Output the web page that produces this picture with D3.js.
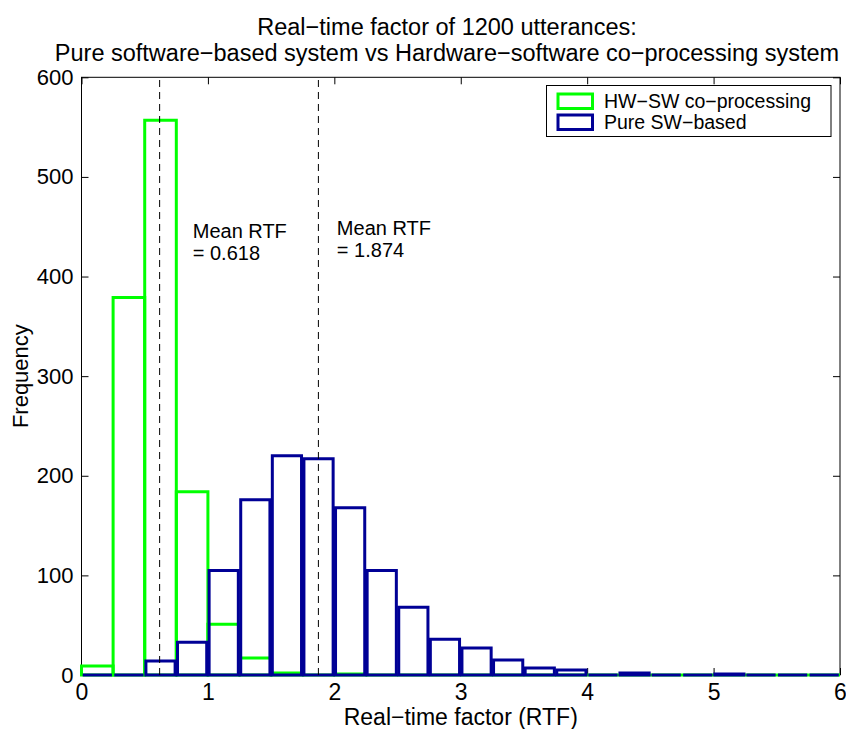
<!DOCTYPE html>
<html>
<head>
<meta charset="utf-8">
<script src="https://cdn.jsdelivr.net/npm/d3@7"></script>
<style>
    body { margin: 0; background: #fff; }
    svg text { font-family: "Liberation Sans", Arial, Helvetica, sans-serif; fill: #000; }
</style>
</head>
<body>
<svg id="chart" width="846" height="729"></svg>
<script>
    // histogram bins (left edge of each 0.25-wide bin)
    var binStarts = [0, 0.25, 0.5, 0.75, 1, 1.25, 1.5, 1.75, 2, 2.25, 2.5, 2.75,
                     3, 3.25, 3.5, 3.75, 4, 4.25, 4.5, 4.75, 5, 5.25, 5.5, 5.75];
    var binWidth = 0.25;
    var hwCounts = [9, 379, 557, 184, 51, 17, 2, 0, 1, 0, 0, 0,
                    0, 0, 0, 0, 0, 0, 0, 0, 0, 0, 0, 0];
    var swCounts = [0, 0, 14, 33, 105, 176, 220, 217, 168, 105, 68, 36,
                    27, 15, 7, 5, 0, 2, 0, 0, 1, 0, 0, 0];
    var seriesNames = ['HW\u2212SW co\u2212processing', 'Pure SW\u2212based'];
    var meanValues = [0.618, 1.874];
    var meanLabels = [['Mean RTF', '= 0.618'], ['Mean RTF', '= 1.874']];
    var meanLabelPos = [[0.88, 439], [2.02, 442]];
    var xTicks = [0, 1, 2, 3, 4, 5, 6];
    var yTicks = [0, 100, 200, 300, 400, 500, 600];
    var titleLines = ['Real\u2212time factor of 1200 utterances:',
                      'Pure software\u2212based system vs Hardware\u2212software co\u2212processing system'];

    var colors = { hw: '#00ff00', sw: '#000096' };

    var margin = { top: 77.3, right: 6, bottom: 54, left: 81.5 };
    var svg = d3.select('#chart');
    var width = +svg.attr('width') - margin.left - margin.right;
    var height = +svg.attr('height') - margin.top - margin.bottom;

    var x = d3.scaleLinear().domain([0, 6]).range([0, width]);
    var y = d3.scaleLinear().domain([0, 600]).range([height, 0]);

    var g = svg.append('g').attr('transform', 'translate(' + margin.left + ',' + margin.top + ')');

    // axes with inward ticks on all four sides
    g.append('g').attr('class', 'x-axis').attr('transform', 'translate(0,' + height + ')')
        .call(d3.axisBottom(x).tickValues(xTicks).tickFormat(d3.format('d')).tickSizeInner(-7).tickSizeOuter(0).tickPadding(9));
    g.append('g').attr('class', 'y-axis')
        .call(d3.axisLeft(y).tickValues(yTicks).tickFormat(d3.format('d')).tickSizeInner(-7).tickSizeOuter(0).tickPadding(8));
    g.append('g')
        .call(d3.axisTop(x).tickValues(xTicks).tickFormat('').tickSizeInner(-7).tickSizeOuter(0));
    g.append('g').attr('transform', 'translate(' + width + ',0)')
        .call(d3.axisRight(y).tickValues(yTicks).tickFormat('').tickSizeInner(-7).tickSizeOuter(0));

    g.selectAll('.domain').remove();
    g.selectAll('.tick line').attr('stroke', '#000').attr('stroke-width', 1);
    g.selectAll('.tick text').style('font-size', '22px').attr('fill', '#000');
    g.selectAll('.x-axis .tick text').style('font-size', '23px');

    g.append('rect')
        .attr('width', width).attr('height', height)
        .attr('fill', 'none').attr('stroke', '#000').attr('stroke-width', 1);

    function barPath(start, count, inset) {
        var x0 = x(start) + inset;
        var x1 = x(start + binWidth) - inset;
        return 'M' + x0 + ',' + y(0) + 'V' + y(count) + 'H' + x1 + 'V' + y(0) + 'Z';
    }

    function drawBars(counts, color, inset) {
        g.append('g').selectAll('path')
            .data(counts)
            .enter().append('path')
            .attr('d', function(d, i) { return barPath(binStarts[i], d, inset); })
            .attr('fill', 'none')
            .attr('stroke', color)
            .attr('stroke-width', 3)
            .attr('stroke-linejoin', 'miter');
    }

    drawBars(hwCounts, colors.hw, 0);
    drawBars(swCounts, colors.sw, 1.2);

    // mean lines
    g.append('g').selectAll('line')
        .data(meanValues)
        .enter().append('line')
        .attr('x1', function(d) { return x(d); })
        .attr('x2', function(d) { return x(d); })
        .attr('y1', y(0)).attr('y2', y(600))
        .attr('stroke', '#000').attr('stroke-width', 1)
        .attr('stroke-dasharray', '7,5');

    meanLabels.forEach(function(lines, i) {
        var t = g.append('text')
            .attr('x', x(meanLabelPos[i][0]))
            .attr('y', y(meanLabelPos[i][1]))
            .style('font-size', '20px');
        lines.forEach(function(line, j) {
            t.append('tspan')
                .attr('x', x(meanLabelPos[i][0]))
                .attr('dy', j === 0 ? 0 : 22)
                .text(line);
        });
    });

    // legend
    var legend = svg.append('g').attr('transform', 'translate(546.5,85.5)');
    legend.append('rect')
        .attr('width', 284.5).attr('height', 51)
        .attr('fill', '#fff').attr('stroke', '#000').attr('stroke-width', 1);
    [colors.hw, colors.sw].forEach(function(c, i) {
        legend.append('rect')
            .attr('x', 11.5).attr('y', 8.5 + i * 21)
            .attr('width', 34.5).attr('height', 14.5)
            .attr('fill', 'none').attr('stroke', c).attr('stroke-width', 3);
        legend.append('text')
            .attr('x', 57.5).attr('y', 15.5 + i * 21)
            .attr('dy', '0.35em')
            .style('font-size', '19.5px')
            .text(seriesNames[i]);
    });

    // titles and axis labels
    var cx = margin.left + width / 2;
    var titleX = 447;
    svg.append('text').attr('x', titleX).attr('y', 35)
        .attr('text-anchor', 'middle').style('font-size', '23.5px').text(titleLines[0]);
    svg.append('text').attr('x', titleX).attr('y', 61)
        .attr('text-anchor', 'middle').style('font-size', '23.5px').text(titleLines[1]);

    svg.append('text').attr('x', cx).attr('y', 725)
        .attr('text-anchor', 'middle').style('font-size', '23px').text('Real\u2212time factor (RTF)');

    svg.append('text')
        .attr('transform', 'translate(28,' + (margin.top + height / 2) + ') rotate(-90)')
        .attr('text-anchor', 'middle').style('font-size', '22px').text('Frequency');
</script>
</body>
</html>
